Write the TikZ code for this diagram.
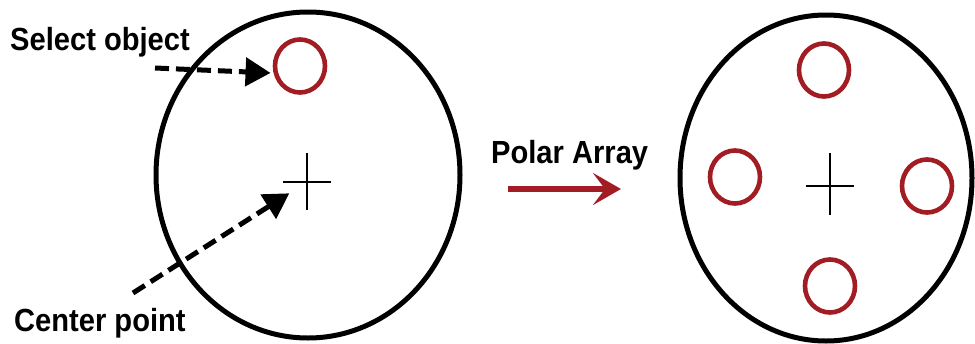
\documentclass[tikz,border=0pt]{standalone}
\usepackage{fontspec}
\setmainfont{Liberation Sans}
\usetikzlibrary{shapes.geometric, arrows.meta, positioning}
\definecolor{objred}{RGB}{162,28,36}

\begin{document}
\begin{tikzpicture}[
    x=1pt, y=-1pt,
    every node/.style={font=\fontsize{32}{38}\selectfont\bfseries, inner sep=0pt},
    caption/.style={anchor=base west, xscale=0.91},
    obj/.style={ellipse, draw=objred, line width=4.6pt, minimum width=50pt, minimum height=53pt},
    plate/.style={line width=5pt},
    crossline/.style={line width=1.4pt},
    pointer/.style={-{Triangle[length=25pt, width=28pt]}, line width=5pt, dash pattern=on 14pt off 7pt},
    arrayarrow/.style={-{Stealth[length=28pt, width=32pt, inset=12pt]}, objred, line width=5.5pt}
]
\useasboundingbox (0,0) rectangle (975,343);

% before the array
\draw[plate] (308,175) ellipse [x radius=152pt, y radius=163pt];
\node[obj] (sel) at (300,66) {};
\coordinate (ctrA) at (307,182);
\draw[crossline] (283,182) -- (331,182) (307,153) -- (307,210);

\node[caption] (selText) at (10,50) {Select object};
\node[caption] (ctrText) at (14,331) {Center point};
\coordinate (selTail) at (155,68);
\coordinate (ctrTail) at (133,293);
\draw[pointer, shorten >=3pt] (selTail) -- (sel.195);
\draw[pointer, shorten >=21pt] (ctrTail) -- (ctrA);

% the command
\node[caption] (polar) at (491,163) {Polar Array};
\coordinate (arrTail) at (508,189);
\coordinate (arrHead) at (621,189);
\draw[arrayarrow] (arrTail) -- (arrHead);

% after the array
\draw[plate] (826,178) ellipse [x radius=146pt, y radius=163pt];
\node[obj] (top) at (824,70) {};
\node[obj] (left) at (735,177) {};
\node[obj] (right) at (927,186) {};
\node[obj] (bottom) at (830,286) {};
\draw[crossline] (806,186) -- (854,186) (830,153) -- (830,215);
\end{tikzpicture}
\end{document}
